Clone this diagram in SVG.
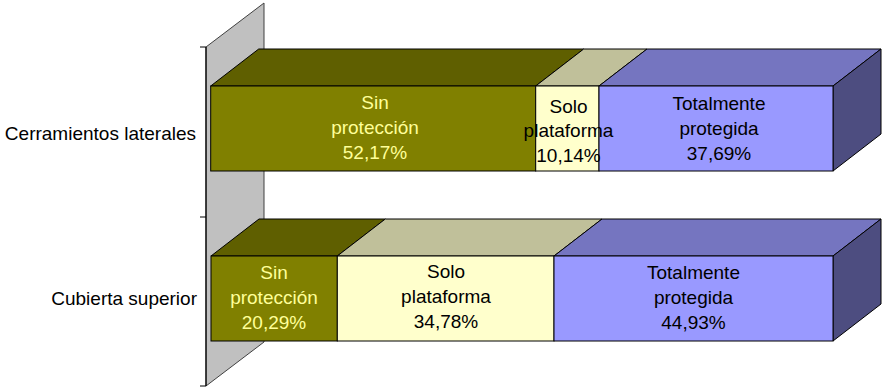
<svg xmlns="http://www.w3.org/2000/svg" width="882" height="390" viewBox="0 0 882 390">
  <style>
    .edge { stroke: #000; stroke-width: 1; stroke-linejoin: miter; }
    .olive-front { fill: #808000; }
    .olive-top { fill: #5F5F00; }
    .solo-front { fill: #FFFFCC; }
    .solo-top { fill: #C0C09A; }
    .blue-front { fill: #9999FF; }
    .blue-top { fill: #7575C0; }
    .blue-side { fill: #4D4D80; }
    text { font-family: "Liberation Sans", Arial, sans-serif; font-size: 19px; text-anchor: middle; }
    .dark { fill: #000; }
    .light { fill: #FFFF99; }
    .cat { text-anchor: end; fill: #000; }
  </style>

  <!-- back wall and category axis -->
  <g id="wall">
    <polygon points="206,47 264,3 264,342 206,386" fill="#C0C0C0" stroke="#404040" stroke-width="1"/>
    <line x1="206" y1="47" x2="206" y2="386" stroke="#000" stroke-width="1.2"/>
    <line x1="200" y1="47" x2="206" y2="47" stroke="#000"/>
    <line x1="200" y1="217" x2="206" y2="217" stroke="#000"/>
    <line x1="200" y1="386" x2="206" y2="386" stroke="#000"/>
  </g>

  <!-- category labels -->
  <g id="categories">
    <text class="cat" x="196" y="140">Cerramientos laterales</text>
    <text class="cat" x="197" y="305">Cubierta superior</text>
  </g>

  <!-- bar 1: Cerramientos laterales -->
  <g id="bar-cerramientos">
    <polygon class="olive-top edge" points="210.7,86 258.7,49 583.7,49 535.7,86"/>
    <polygon class="solo-top edge" points="535.7,86 583.7,49 647,49 599,86"/>
    <polygon class="blue-top edge" points="599,86 647,49 881,49 833,86"/>
    <polygon class="blue-side edge" points="833,86 881,49 881,134 833,171"/>
    <rect class="olive-front edge" x="210.7" y="86" width="325" height="85"/>
    <rect class="solo-front edge" x="535.7" y="86" width="63.3" height="85"/>
    <rect class="blue-front edge" x="599" y="86" width="234" height="85"/>

    <text class="light" x="375" y="109">Sin</text>
    <text class="light" x="375" y="134">protección</text>
    <text class="light" x="375" y="159">52,17%</text>

    <text class="dark" x="568.5" y="112.5">Solo</text>
    <text class="dark" x="568.5" y="137">plataforma</text>
    <text class="dark" x="568.5" y="162">10,14%</text>

    <text class="dark" x="719" y="110">Totalmente</text>
    <text class="dark" x="719" y="134.5">protegida</text>
    <text class="dark" x="719" y="160">37,69%</text>
  </g>

  <!-- bar 2: Cubierta superior -->
  <g id="bar-cubierta">
    <polygon class="olive-top edge" points="211,256 259,219 385.3,219 337.3,256"/>
    <polygon class="solo-top edge" points="337.3,256 385.3,219 602,219 554,256"/>
    <polygon class="blue-top edge" points="554,256 602,219 881,219 833,256"/>
    <polygon class="blue-side edge" points="833,256 881,219 881,304 833,341"/>
    <rect class="olive-front edge" x="211" y="256" width="126.3" height="85"/>
    <rect class="solo-front edge" x="337.3" y="256" width="216.7" height="85"/>
    <rect class="blue-front edge" x="554" y="256" width="279" height="85"/>

    <text class="light" x="274" y="278.5">Sin</text>
    <text class="light" x="274" y="303.5">protección</text>
    <text class="light" x="274" y="328.5">20,29%</text>

    <text class="dark" x="446" y="277.5">Solo</text>
    <text class="dark" x="446" y="302.5">plataforma</text>
    <text class="dark" x="446" y="328">34,78%</text>

    <text class="dark" x="693.5" y="278.5">Totalmente</text>
    <text class="dark" x="693.5" y="303.5">protegida</text>
    <text class="dark" x="693.5" y="328.5">44,93%</text>
  </g>
</svg>
